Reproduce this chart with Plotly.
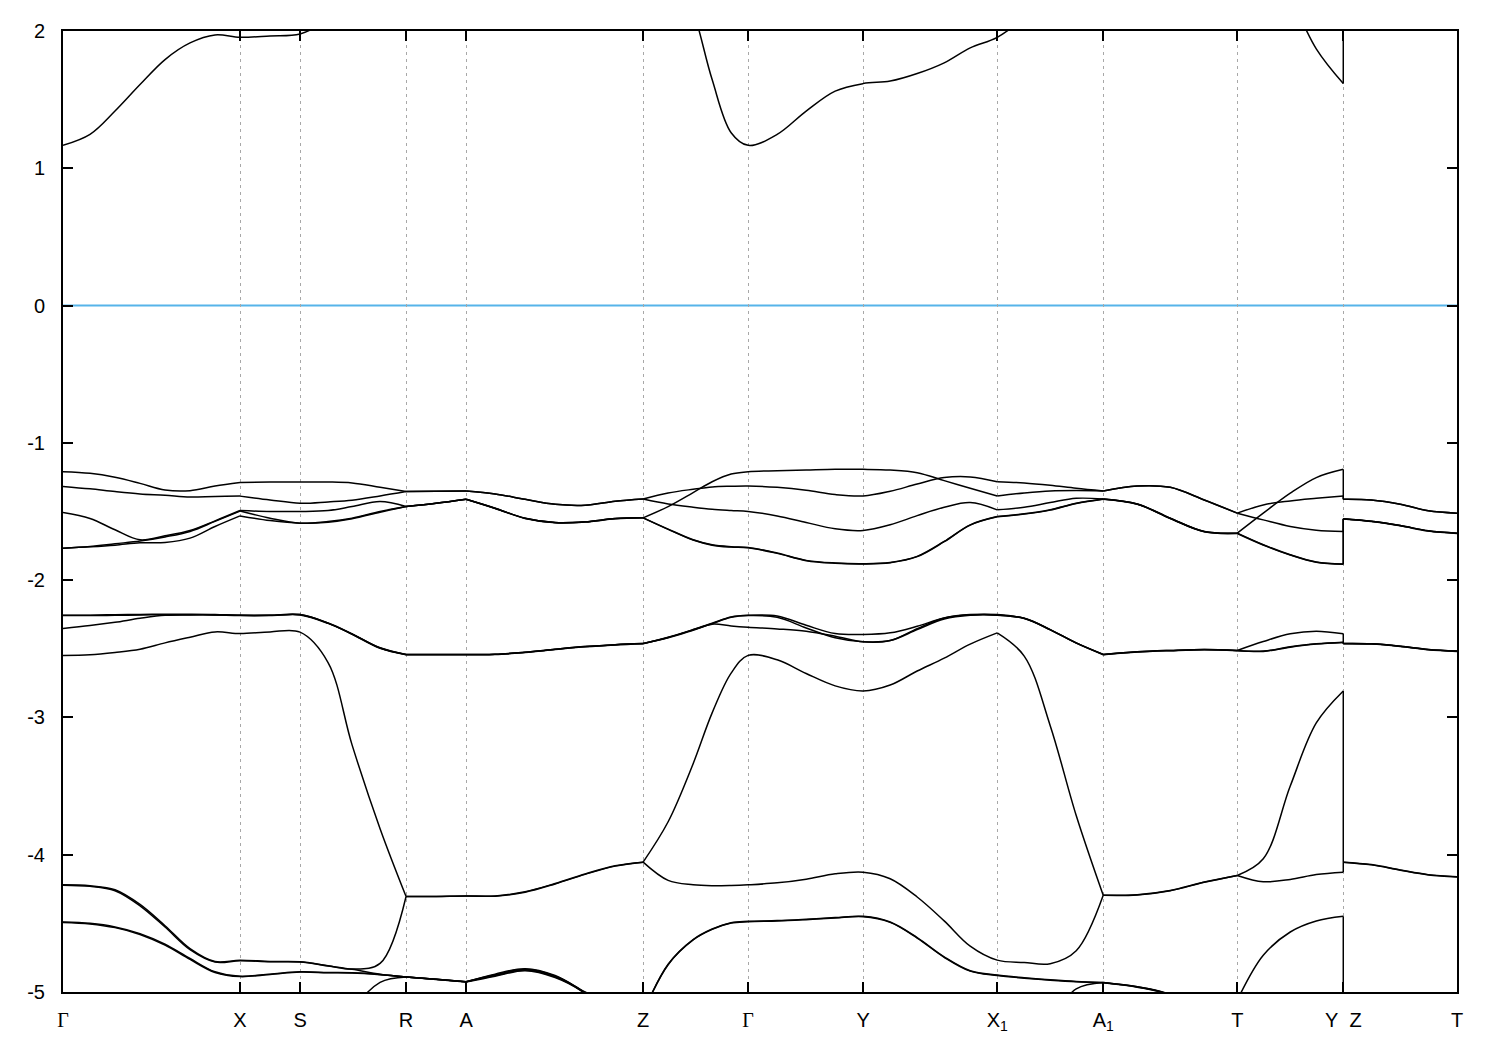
import plotly.graph_objects as go

# ---------------- data ----------------
# path coordinate of every sampled k-point (Y and Z share the same coordinate)
K = [0.00, 0.27, 0.52, 0.77, 1.02, 1.27, 1.52, 1.77,
     2.07, 2.37,
     2.65, 2.89, 3.17, 3.43,
     3.73, 4.03,
     4.32, 4.62, 4.92, 5.22, 5.52, 5.80,
     6.05, 6.30, 6.49, 6.68, 6.85,
     7.14, 7.43, 7.72, 8.00,
     8.27, 8.54, 8.81, 9.07, 9.34,
     9.61, 9.87, 10.13, 10.40,
     10.74, 11.07, 11.41, 11.74,
     12.00, 12.27, 12.53, 12.80,
     12.80, 13.08, 13.37, 13.65, 13.937]
Y_INDEX, Z_INDEX = 47, 48   # the Y|Z discontinuity

# high-symmetry points
TICK_K = [0.00, 1.77, 2.37, 3.43, 4.03, 5.80, 6.85, 8.00, 9.34, 10.40, 11.74, 12.80, 13.937]
GAMMA = '<span style="font-family:Liberation Serif,DejaVu Serif,serif">Γ</span>'
TICK_LABELS = [GAMMA, "X", "S", "R", "A", "Z", GAMMA, "Y", "X<sub>1</sub>",
               "A<sub>1</sub>", "T", "Y\u00a0\u00a0Z", "T"]

Y_TICKS = [-5, -4, -3, -2, -1, 0, 1, 2]
Y_LABELS = ["-5", "-4", "-3", "-2", "-1", "0", "1", "2"]
FERMI_LEVEL = 0.0

# energies (eV) per band at each k-point
CB1 = [1.167, 1.247, 1.417, 1.610, 1.792, 1.913, 1.971, 1.954,
       1.964, 1.978,
       2.080, 2.200, 2.300, 2.400,
       2.500, 2.550,
       2.600, 2.600, 2.600, 2.600, 2.600, 2.600,
       2.600, 2.150, 1.646, 1.259, 1.167,
       1.247, 1.417, 1.562, 1.617,
       1.635, 1.690, 1.768, 1.877, 1.954,
       2.100, 2.300, 2.500, 2.600,
       2.600, 2.600, 2.600, 2.600,
       2.600, 2.250, 1.870, 1.617,
       2.600, 2.600, 2.600, 2.600, 2.600]

VB1 = [-1.210, -1.222, -1.251, -1.295, -1.343, -1.348, -1.314, -1.288,
       -1.285, -1.285,
       -1.285, -1.292, -1.324, -1.355,
       -1.353, -1.350,
       -1.372, -1.411, -1.447, -1.454, -1.425, -1.409,
       -1.365, -1.338, -1.321, -1.316, -1.314,
       -1.324, -1.345, -1.377, -1.387,
       -1.353, -1.300, -1.253, -1.248, -1.283,
       -1.292, -1.309, -1.331, -1.350,
       -1.314, -1.324, -1.416, -1.512,
       -1.452, -1.423, -1.404, -1.387,
       -1.411, -1.416, -1.447, -1.495, -1.512]

VB2 = [-1.317, -1.335, -1.355, -1.372, -1.382, -1.395, -1.390, -1.388,
       -1.416, -1.440,
       -1.430, -1.418, -1.387, -1.355,
       -1.353, -1.350,
       -1.372, -1.411, -1.447, -1.454, -1.425, -1.409,
       -1.445, -1.469, -1.484, -1.493, -1.500,
       -1.532, -1.580, -1.626, -1.638,
       -1.597, -1.530, -1.469, -1.435, -1.488,
       -1.469, -1.435, -1.404, -1.409,
       -1.445, -1.549, -1.646, -1.658,
       -1.512, -1.367, -1.253, -1.193,
       -1.411, -1.416, -1.447, -1.495, -1.512]

VB3 = [-1.508, -1.551, -1.633, -1.706, -1.677, -1.638, -1.568, -1.493,
       -1.500, -1.500,
       -1.493, -1.464, -1.428, -1.464,
       -1.440, -1.411,
       -1.476, -1.549, -1.580, -1.575, -1.551, -1.546,
       -1.464, -1.362, -1.283, -1.227, -1.210,
       -1.203, -1.198, -1.193, -1.193,
       -1.198, -1.217, -1.275, -1.331, -1.387,
       -1.365, -1.350, -1.347, -1.350,
       -1.314, -1.324, -1.416, -1.512,
       -1.561, -1.609, -1.636, -1.646,
       -1.553, -1.571, -1.602, -1.641, -1.658]

VB4 = [-1.767, -1.755, -1.735, -1.715, -1.685, -1.645, -1.572, -1.497,
       -1.549, -1.585,
       -1.573, -1.549, -1.500, -1.464,
       -1.440, -1.411,
       -1.476, -1.549, -1.580, -1.575, -1.551, -1.546,
       -1.628, -1.706, -1.743, -1.757, -1.762,
       -1.803, -1.856, -1.875, -1.880,
       -1.871, -1.827, -1.718, -1.597, -1.537,
       -1.517, -1.488, -1.440, -1.409,
       -1.445, -1.549, -1.646, -1.658,
       -1.742, -1.815, -1.868, -1.883,
       -1.553, -1.571, -1.602, -1.641, -1.658]

VB5 = [-1.767, -1.757, -1.745, -1.728, -1.725, -1.694, -1.609, -1.532,
       -1.566, -1.585,
       -1.578, -1.553, -1.505, -1.464,
       -1.440, -1.411,
       -1.478, -1.551, -1.582, -1.577, -1.553, -1.546,
       -1.630, -1.708, -1.745, -1.759, -1.764,
       -1.805, -1.858, -1.877, -1.882,
       -1.873, -1.829, -1.720, -1.599, -1.539,
       -1.519, -1.490, -1.442, -1.411,
       -1.447, -1.551, -1.648, -1.660,
       -1.744, -1.817, -1.870, -1.885,
       -1.555, -1.573, -1.604, -1.643, -1.660]

MB1 = [-2.256, -2.255, -2.252, -2.250, -2.248, -2.248, -2.250, -2.256,
       -2.256, -2.251,
       -2.312, -2.391, -2.493, -2.541,
       -2.541, -2.541,
       -2.540, -2.525, -2.504, -2.484, -2.470, -2.462,
       -2.416, -2.360, -2.314, -2.268, -2.256,
       -2.261, -2.329, -2.389, -2.396,
       -2.384, -2.336, -2.275, -2.251, -2.251,
       -2.278, -2.360, -2.457, -2.541,
       -2.522, -2.512, -2.505, -2.512,
       -2.447, -2.391, -2.372, -2.391,
       -2.462, -2.464, -2.481, -2.505, -2.517]

MB2 = [-2.258, -2.258, -2.256, -2.254, -2.252, -2.252, -2.254, -2.258,
       -2.258, -2.254,
       -2.315, -2.394, -2.496, -2.543,
       -2.543, -2.543,
       -2.542, -2.527, -2.506, -2.486, -2.472, -2.463,
       -2.418, -2.362, -2.317, -2.271, -2.258,
       -2.271, -2.348, -2.420, -2.449,
       -2.440, -2.353, -2.275, -2.253, -2.253,
       -2.280, -2.362, -2.459, -2.543,
       -2.524, -2.514, -2.507, -2.514,
       -2.517, -2.486, -2.464, -2.452,
       -2.463, -2.466, -2.483, -2.507, -2.519]

MB3 = [-2.353, -2.331, -2.307, -2.278, -2.256, -2.253, -2.253, -2.256,
       -2.256, -2.251,
       -2.313, -2.392, -2.494, -2.541,
       -2.541, -2.541,
       -2.540, -2.525, -2.504, -2.484, -2.470, -2.462,
       -2.420, -2.365, -2.321, -2.334, -2.343,
       -2.355, -2.372, -2.408, -2.449,
       -2.440, -2.360, -2.283, -2.256, -2.256,
       -2.278, -2.360, -2.457, -2.541,
       -2.522, -2.512, -2.505, -2.512,
       -2.519, -2.488, -2.466, -2.454,
       -2.462, -2.464, -2.481, -2.505, -2.517]

MB4 = [-2.548, -2.544, -2.527, -2.503, -2.457, -2.416, -2.377, -2.389,
       -2.377, -2.379,
       -2.600, -3.200, -3.810, -4.304,
       -4.304, -4.300,
       -4.300, -4.270, -4.210, -4.140, -4.080, -4.054,
       -3.760, -3.337, -2.967, -2.677, -2.548,
       -2.580, -2.680, -2.770, -2.807,
       -2.764, -2.662, -2.568, -2.466, -2.384,
       -2.553, -3.060, -3.715, -4.296,
       -4.291, -4.260, -4.199, -4.151,
       -4.030, -3.500, -3.040, -2.807,
       -4.054, -4.072, -4.111, -4.145, -4.160]

LB1 = [-4.219, -4.226, -4.255, -4.362, -4.517, -4.684, -4.778, -4.768,
       -4.778, -4.780,
       -4.809, -4.833, -4.792, -4.304,
       -4.304, -4.300,
       -4.302, -4.273, -4.213, -4.143, -4.083, -4.054,
       -4.187, -4.219, -4.226, -4.224, -4.219,
       -4.205, -4.178, -4.139, -4.127,
       -4.175, -4.308, -4.482, -4.666, -4.768,
       -4.785, -4.794, -4.700, -4.296,
       -4.293, -4.262, -4.201, -4.151,
       -4.197, -4.180, -4.144, -4.127,
       -4.054, -4.074, -4.113, -4.147, -4.162]

LB2 = [-4.222, -4.230, -4.262, -4.372, -4.527, -4.692, -4.782, -4.772,
       -4.780, -4.782,
       -4.811, -4.835, -4.870, -4.890,
       -4.907, -4.926,
       -4.870, -4.830, -4.880, -5.000, -5.100, -5.150,
       -4.798, -4.618, -4.541, -4.495, -4.485,
       -4.480, -4.470, -4.458, -4.449,
       -4.490, -4.604, -4.744, -4.845, -4.877,
       -4.896, -4.911, -4.923, -4.930,
       -4.962, -5.020, -5.150, -5.060,
       -4.732, -4.563, -4.483, -4.449,
       -5.400, -5.400, -5.400, -5.400, -5.400]

LB3 = [-4.490, -4.500, -4.526, -4.575, -4.652, -4.756, -4.853, -4.885,
       -4.870, -4.853,
       -4.858, -4.860, -4.872, -4.890,
       -4.907, -4.926,
       -4.875, -4.835, -4.885, -5.005, -5.200, -5.150,
       -4.801, -4.621, -4.544, -4.498, -4.488,
       -4.483, -4.473, -4.461, -4.452,
       -4.493, -4.607, -4.747, -4.848, -4.880,
       -4.899, -4.914, -4.926, -4.933,
       -4.965, -5.025, -5.200, -5.400,
       -5.400, -5.400, -5.400, -5.400,
       -5.400, -5.400, -5.400, -5.400, -5.400]

LB4 = [-4.493, -4.504, -4.531, -4.581, -4.659, -4.763, -4.858, -4.888,
       -4.872, -4.855,
       -4.860, -4.862, -4.874, -4.890,
       -4.907, -4.926,
       -4.880, -4.840, -4.890, -5.010, -5.200, -5.400,
       -5.400, -5.400, -5.400, -5.400, -5.400,
       -5.400, -5.400, -5.400, -5.400,
       -5.400, -5.400, -5.400, -5.400, -5.400,
       -5.400, -5.200, -4.977, -4.930,
       -4.962, -5.020, -5.200, -5.400,
       -5.400, -5.400, -5.400, -5.400,
       -5.400, -5.400, -5.400, -5.400, -5.400]

LB5 = [-5.600, -5.600, -5.600, -5.600, -5.600, -5.600, -5.600, -5.600,
       -5.600, -5.600,
       -5.600, -5.150, -4.930, -4.890,
       -4.909, -4.928,
       -4.885, -4.845, -4.895, -5.010, -5.200, -5.400,
       -5.600, -5.600, -5.600, -5.600, -5.600,
       -5.600, -5.600, -5.600, -5.600,
       -5.600, -5.600, -5.600, -5.600, -5.600,
       -5.600, -5.600, -5.600, -5.600,
       -5.600, -5.600, -5.600, -5.600,
       -5.600, -5.600, -5.600, -5.600,
       -5.600, -5.600, -5.600, -5.600, -5.600]

BANDS = [CB1, VB1, VB2, VB3, VB4, VB5, MB1, MB2, MB3, MB4, LB1, LB2, LB3, LB4, LB5]

# k-point indices where a band has a sharp corner (band meets a node)
VB_KINKS = [7, 13, 15, 21, 35, 39, 43]
MB_KINKS = [13, 21, 39, 43]
KINKS = [[], VB_KINKS, VB_KINKS, VB_KINKS, VB_KINKS, VB_KINKS,
         MB_KINKS, MB_KINKS, MB_KINKS, [13, 21, 35, 39, 43],
         [13, 21, 39, 43], [13, 15, 21, 39, 43], [13, 15, 21, 39, 43],
         [13, 15, 21, 39, 43], [13, 15]]

# ---------------- figure ----------------
FONT = "Liberation Sans, Arial, sans-serif"
fig = go.Figure()

fig.add_hline(y=FERMI_LEVEL, line=dict(color="#56b4e9", width=2), layer="below")


def pieces(kinks):
    cuts = [0] + sorted(kinks) + [Y_INDEX]
    segs = [(cuts[i], cuts[i + 1]) for i in range(len(cuts) - 1)]
    segs += [(Y_INDEX, Z_INDEX), (Z_INDEX, len(K) - 1)]
    return segs


for band, kinks in zip(BANDS, KINKS):
    assert len(band) == len(K)
    for a, b in pieces(kinks):
        xs = K[a:b + 1]
        ys = band[a:b + 1]
        shape = "linear" if xs[0] == xs[-1] else "spline"
        fig.add_trace(go.Scatter(
            x=xs, y=ys, mode="lines",
            line=dict(color="black", width=1.5, shape=shape, smoothing=1.0),
            hoverinfo="skip", showlegend=False))

axis_common = dict(
    showline=True, linecolor="black", linewidth=2, mirror="ticks",
    ticks="inside", ticklen=10, tickwidth=2, tickcolor="black",
    zeroline=False,
    tickfont=dict(family=FONT, size=20, color="black"),
)

fig.update_xaxes(
    range=[TICK_K[0], TICK_K[-1]], tickmode="array",
    tickvals=TICK_K, ticktext=TICK_LABELS,
    showgrid=True, gridcolor="#a8a8a8", gridwidth=1, griddash="3px,4px",
    ticklabelstandoff=9,
    **axis_common)
fig.update_yaxes(
    range=[-5, 2], tickmode="array", tickvals=Y_TICKS, ticktext=Y_LABELS,
    showgrid=False, ticklabelstandoff=12,
    **axis_common)

# the page body adds an 8px margin, so the figure is 8px smaller each way
fig.update_layout(
    width=1492, height=1042,
    margin=dict(l=55, r=43, t=20, b=58),
    paper_bgcolor="white", plot_bgcolor="white",
    font=dict(family=FONT, size=20, color="black"),
    showlegend=False,
)

fig.write_html("out.html")
